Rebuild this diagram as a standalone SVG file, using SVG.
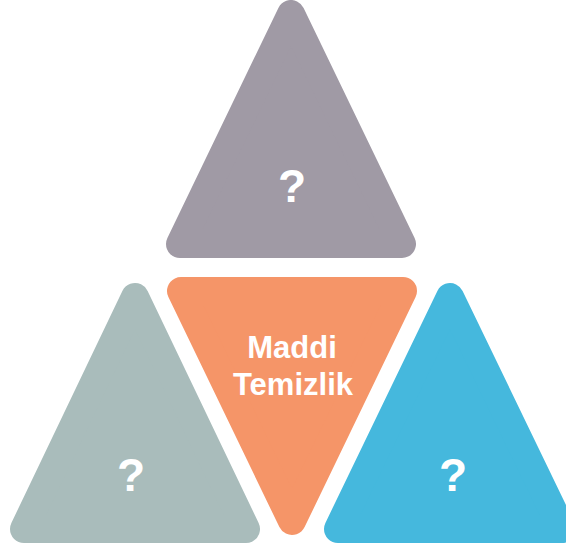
<svg xmlns="http://www.w3.org/2000/svg" width="566" height="549" viewBox="0 0 566 549">
<style>
.tri{stroke-width:28;stroke-linejoin:round}
.lbl{font-family:"Liberation Sans",Arial,sans-serif;font-weight:bold;fill:#ffffff;text-anchor:middle}
.q{font-size:46px}
.c{font-size:31px}
</style>
<rect width="566" height="549" fill="#ffffff"/>
<g id="top">
<polygon class="tri" points="291,14 402,244 180,244" fill="#a09aa5" stroke="#a09aa5"/>
<text class="lbl q" x="292" y="202">?</text>
</g>
<g id="center">
<polygon class="tri" points="181,291 403,291 292,521" fill="#f59568" stroke="#f59568"/>
<text class="lbl c" x="292" y="358">Maddi</text>
<text class="lbl c" x="293" y="395">Temizlik</text>
</g>
<g id="left">
<polygon class="tri" points="135,297 246,529 24,529" fill="#a9bcbb" stroke="#a9bcbb"/>
<text class="lbl q" x="131" y="491">?</text>
</g>
<g id="right">
<polygon class="tri" points="450,297 562,529 338,529" fill="#45b8dd" stroke="#45b8dd"/>
<text class="lbl q" x="453" y="491">?</text>
</g>
<g id="connectors"></g>
</svg>
